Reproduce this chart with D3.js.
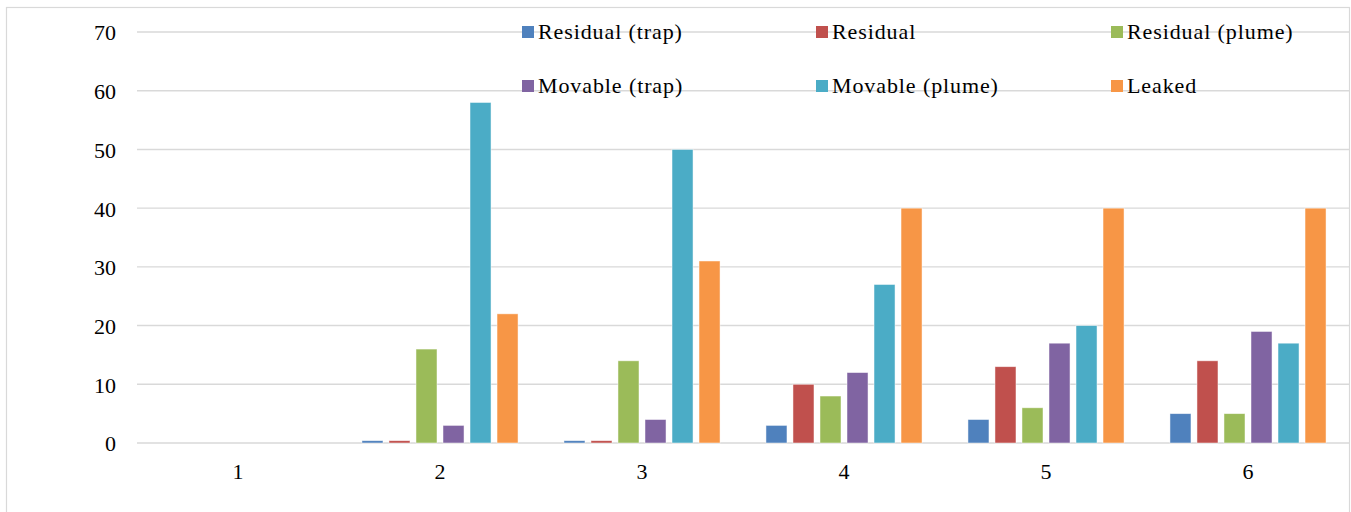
<!DOCTYPE html>
<html>
<head>
<meta charset="utf-8">
<script src="https://cdn.jsdelivr.net/npm/d3@7"></script>
<style>
  html, body { margin: 0; padding: 0; background: #fff; }
  svg { display: block; }
  text { fill: #000; }
</style>
</head>
<body>
<svg id="chart" width="1351" height="512"></svg>
<script>
// Categories on the x axis
const categories = ["1", "2", "3", "4", "5", "6"];

// Series names and colours
const seriesNames = ["Residual (trap)", "Residual", "Residual (plume)", "Movable (trap)", "Movable (plume)", "Leaked"];
const seriesColors = ["#4f81bd", "#c0504d", "#9bbb59", "#8064a2", "#4bacc6", "#f79646"];

// Values per series, one entry per category
const residualTrap  = [0, 0.4, 0.4, 3, 4, 5];
const residual      = [0, 0.4, 0.4, 10, 13, 14];
const residualPlume = [0, 16, 14, 8, 6, 5];
const movableTrap   = [0, 3, 4, 12, 17, 19];
const movablePlume  = [0, 58, 50, 27, 20, 17];
const leaked        = [0, 22, 31, 40, 40, 40];

// Y axis ticks
const yTicks = [0, 10, 20, 30, 40, 50, 60, 70];

const seriesValues = [residualTrap, residual, residualPlume, movableTrap, movablePlume, leaked];

const FONT = "'Liberation Serif', 'Times New Roman', Times, 'DejaVu Serif', 'Noto Serif', serif";

const svg = d3.select("#chart");
const plot = { left: 137, right: 1349, top: 32, bottom: 443 };

// chart frame
svg.append("rect")
  .attr("x", 6.5).attr("y", 7.5)
  .attr("width", 1343).attr("height", 520)
  .attr("fill", "#fff")
  .attr("stroke", "#d9d9d9").attr("stroke-width", 1.2);

const y = d3.scaleLinear().domain([0, 70]).range([plot.bottom, plot.top]);
const x0 = d3.scaleBand().domain(categories).range([plot.left, plot.right]).padding(0);
const x1 = d3.scaleBand().domain(seriesNames).range([0, x0.bandwidth()])
  .paddingInner(0.222).paddingOuter(0.85);

// gridlines
svg.append("g").selectAll("line")
  .data(yTicks)
  .join("line")
  .attr("x1", plot.left).attr("x2", plot.right)
  .attr("y1", d => y(d)).attr("y2", d => y(d))
  .attr("stroke", "#d9d9d9").attr("stroke-width", 1.4);

// y axis labels
const yAxis = d3.axisLeft(y).tickValues(yTicks).tickSize(0).tickPadding(0).tickFormat(d3.format("d"));
const gy = svg.append("g").attr("transform", `translate(${plot.left - 21},0)`).call(yAxis)
  .attr("font-family", null).attr("font-size", null);
gy.select(".domain").remove();
gy.selectAll("text")
  .style("font-family", FONT)
  .style("font-size", "22px")
  .attr("fill", "#000")
  .attr("dy", "0.36em");

// x axis labels
const xAxis = d3.axisBottom(x0).tickSize(0).tickPadding(0);
const gx = svg.append("g").attr("transform", `translate(0,${plot.bottom})`).call(xAxis)
  .attr("font-family", null).attr("font-size", null);
gx.select(".domain").remove();
gx.selectAll("text")
  .style("font-family", FONT)
  .style("font-size", "22px")
  .attr("fill", "#000")
  .attr("dy", 0)
  .attr("y", 36);

// bars
const groups = svg.append("g").selectAll("g")
  .data(categories.map((c, i) => ({ c, i })))
  .join("g")
  .attr("transform", d => `translate(${x0(d.c)},0)`);

groups.selectAll("rect")
  .data(d => seriesNames.map((s, k) => ({ s, k, v: seriesValues[k][d.i] })))
  .join("rect")
  .filter(d => d.v > 0)
  .attr("x", d => x1(d.s))
  .attr("width", x1.bandwidth())
  .attr("y", d => y(d.v))
  .attr("height", d => y(0) - y(d.v))
  .attr("fill", d => seriesColors[d.k])
  .attr("stroke", "#ffffff").attr("stroke-opacity", 0.6).attr("stroke-width", 0.8);

// legend: two rows of three
const legendCols = [522, 816, 1111];
const legendRows = [32, 86];
const legend = svg.append("g").selectAll("g")
  .data(seriesNames.map((s, k) => ({ s, k })))
  .join("g")
  .attr("transform", d => `translate(${legendCols[d.k % 3]},${legendRows[Math.floor(d.k / 3)]})`);

legend.append("rect")
  .attr("x", 0).attr("y", -6)
  .attr("width", 12).attr("height", 12)
  .attr("fill", d => seriesColors[d.k]);

legend.append("text")
  .attr("x", 16).attr("y", 0)
  .attr("dy", "0.33em")
  .style("font-family", FONT)
  .style("font-size", "22px")
  .style("letter-spacing", "0.9px")
  .text(d => d.s);
</script>
</body>
</html>
